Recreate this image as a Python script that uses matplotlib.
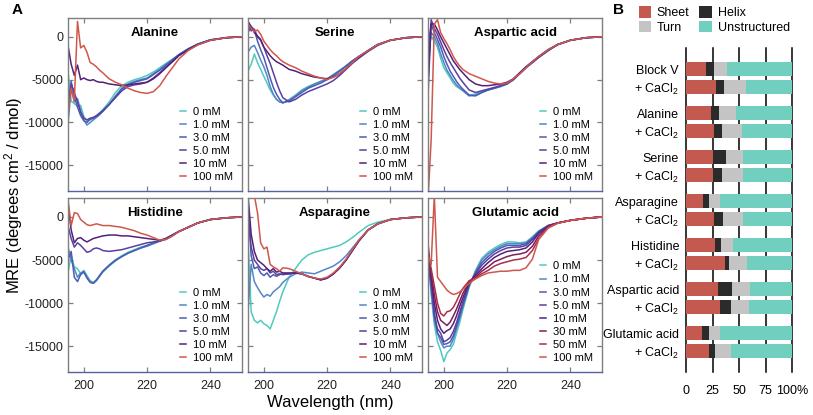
import matplotlib
matplotlib.use('Agg')
import matplotlib.pyplot as plt
import numpy as np

plt.rcParams['font.family'] = ['Liberation Sans', 'DejaVu Sans']
plt.rcParams['mathtext.fontset'] = 'custom'
plt.rcParams['mathtext.rm'] = 'Liberation Sans'
plt.rcParams['mathtext.it'] = 'Liberation Sans'
plt.rcParams['axes.unicode_minus'] = False

# ---- panel A data (MRE, degrees cm^2 / dmol) ----
wl = [195, 196, 197, 198, 199, 200, 201, 202, 203, 204, 205, 206, 208, 210, 212,
      214, 216, 218, 220, 222, 224, 226, 228, 230, 233, 236, 240, 245, 250]

conc6 = ['0 mM', '1.0 mM', '3.0 mM', '5.0 mM', '10 mM', '100 mM']
conc8 = ['0 mM', '1.0 mM', '3.0 mM', '5.0 mM', '10 mM', '30 mM', '50 mM', '100 mM']

alanine = [
    [-4000, -7500, -7800, -8100, -8000, -9300, -9800, -9700, -9500, -9200, -8900, -8500, -7600, -6500, -5700, -5300, -5000, -4800, -4500, -4100, -3600, -3100, -2600, -2100, -1400, -850, -350, -100, 0],
    [-10200, -6000, -7600, -7200, -8600, -9700, -10300, -10000, -9700, -9400, -9100, -8700, -7900, -6900, -6000, -5500, -5200, -5000, -4800, -4300, -3800, -3200, -2700, -2100, -1400, -850, -350, -100, 0],
    [-8000, -5200, -7000, -8200, -9200, -9800, -10000, -9600, -9500, -9300, -9000, -8700, -7900, -7000, -6100, -5600, -5300, -5100, -4900, -4400, -3900, -3300, -2700, -2100, -1400, -850, -350, -100, 0],
    [-9000, -5500, -6500, -7600, -8800, -9500, -9700, -9500, -9400, -9200, -8900, -8600, -7900, -7100, -6300, -5800, -5600, -5500, -5300, -4800, -4200, -3500, -2900, -2200, -1500, -900, -400, -100, 0],
    [-1000, -3200, -4500, -3300, -5000, -4800, -5000, -5100, -5000, -5200, -5300, -5300, -5500, -5600, -5700, -5600, -5500, -5400, -5300, -4900, -4300, -3600, -2900, -2200, -1500, -900, -400, -100, 0],
    [-9000, -6000, -7500, 1800, -1300, -1000, -1800, -3000, -3200, -3500, -3900, -4200, -4900, -5300, -5600, -6000, -6300, -6500, -6600, -6400, -5700, -4600, -3600, -2600, -1600, -950, -400, -100, 0],
]
serine = [
    [-4000, -3200, -2000, -3000, -3800, -4600, -5400, -6200, -6800, -7300, -7600, -7700, -7300, -6800, -6200, -5800, -5500, -5200, -4900, -4500, -4000, -3400, -2900, -2300, -1600, -900, -400, -100, 0],
    [-1800, -1200, -1000, -1800, -2700, -3500, -4500, -5800, -6700, -7300, -7600, -7700, -7400, -6900, -6300, -5900, -5500, -5200, -4900, -4400, -3900, -3400, -2800, -2300, -1600, -900, -400, -100, 0],
    [500, 1200, 800, -500, -1500, -2400, -3600, -4800, -5900, -6700, -7300, -7700, -7500, -7000, -6500, -6000, -5700, -5400, -5000, -4500, -4000, -3400, -2800, -2300, -1600, -900, -400, -100, 0],
    [1500, 700, 900, 0, -400, -1200, -2200, -3100, -4200, -5300, -6300, -7100, -7600, -7300, -6800, -6400, -6100, -5800, -5500, -5100, -4500, -3800, -3100, -2500, -1700, -1000, -400, -100, 0],
    [1800, 1200, 500, 100, -300, -1200, -1700, -2200, -2600, -2900, -3100, -3300, -3800, -4000, -4300, -4500, -4700, -4800, -4900, -4700, -4300, -3700, -3000, -2400, -1600, -900, -400, -100, 0],
    [1500, 1000, 600, 800, 300, -500, -1000, -1500, -1900, -2200, -2600, -2900, -3300, -3600, -4000, -4300, -4600, -4800, -5000, -4700, -4300, -3700, -3000, -2300, -1600, -900, -400, -100, 0],
]
aspartic = [
    [-2000, 0, -500, -1200, -2500, -3600, -4200, -4800, -5400, -5800, -6000, -6200, -6800, -6700, -6400, -6200, -6000, -5800, -5500, -5000, -4300, -3600, -3000, -2400, -1600, -900, -400, -100, 0],
    [-3000, 500, 0, -800, -2000, -3000, -3900, -4500, -5100, -5600, -6000, -6300, -6900, -6800, -6500, -6200, -6000, -5800, -5500, -5000, -4300, -3600, -3000, -2400, -1600, -900, -400, -100, 0],
    [-1000, 1500, 500, -300, -1200, -2300, -3200, -4000, -4600, -5200, -5700, -6100, -6800, -6900, -6500, -6200, -6000, -5700, -5400, -4900, -4200, -3500, -2900, -2300, -1500, -900, -400, -100, 0],
    [-7000, 2000, 1000, 300, -600, -1500, -2300, -3000, -3600, -4200, -4800, -5300, -6200, -6500, -6300, -6100, -5900, -5700, -5500, -5000, -4300, -3600, -3000, -2400, -1600, -900, -400, -100, 0],
    [-5000, 1500, 1500, 800, 0, -700, -1400, -2100, -2800, -3300, -3800, -4200, -5000, -5500, -5700, -5700, -5600, -5500, -5300, -4900, -4200, -3500, -2900, -2300, -1500, -900, -400, -100, 0],
    [-19000, -12000, 1500, 2000, 500, -200, -800, -1500, -2300, -2900, -3400, -3800, -4300, -4600, -4900, -5200, -5400, -5500, -5400, -4900, -4300, -3600, -2900, -2300, -1500, -900, -400, -100, 0],
]
histidine = [
    [-6500, -4500, -5800, -6000, -6600, -6200, -6800, -7400, -7600, -7300, -6800, -6300, -5600, -5000, -4500, -4100, -3800, -3500, -3300, -3100, -2800, -2500, -2100, -1700, -1200, -700, -300, -100, 0],
    [-3500, -5000, -6000, -7000, -6500, -6300, -7000, -7500, -7700, -7400, -6900, -6400, -5700, -5100, -4600, -4200, -3900, -3600, -3400, -3100, -2800, -2500, -2100, -1700, -1200, -700, -300, -100, 0],
    [-5000, -4000, -7000, -7500, -6700, -6400, -7100, -7600, -7700, -7300, -6800, -6300, -5600, -5000, -4600, -4200, -3900, -3600, -3300, -3000, -2800, -2500, -2100, -1700, -1200, -700, -300, -100, 0],
    [-1000, -2500, -3500, -3000, -3300, -3700, -4100, -4000, -3700, -3600, -3700, -3900, -4000, -3900, -3800, -3600, -3400, -3200, -3000, -2900, -2800, -2600, -2200, -1700, -1200, -700, -300, -100, 0],
    [1500, -1500, -3000, -2500, -2400, -2700, -2900, -2700, -2500, -2400, -2300, -2200, -2100, -2100, -2200, -2200, -2300, -2400, -2500, -2600, -2700, -2500, -2100, -1700, -1200, -700, -300, -100, 0],
    [2000, -1000, 500, 400, -300, -600, -900, -1000, -900, -800, -900, -1000, -1000, -1100, -1200, -1400, -1600, -1900, -2100, -2400, -2700, -2600, -2200, -1700, -1200, -700, -300, -100, 0],
]
asparagine = [
    [-2500, -11000, -12000, -12300, -12000, -12400, -12600, -13000, -12000, -11000, -9800, -8700, -7000, -6000, -5000, -4400, -4100, -3900, -3700, -3500, -3300, -2900, -2400, -1800, -1000, -600, -300, -100, 0],
    [-11000, -5500, -7500, -8200, -8800, -9300, -9000, -9200, -8700, -8400, -8100, -7600, -7000, -6600, -6400, -6500, -6600, -6300, -6000, -5700, -5200, -4500, -3600, -2700, -1500, -800, -300, -100, 0],
    [1000, -4500, -6000, -5800, -6500, -6800, -6500, -7000, -6700, -6900, -6700, -6600, -6600, -6500, -6600, -6900, -7100, -7300, -7100, -6600, -5900, -5000, -3900, -2800, -1500, -800, -300, -100, 0],
    [500, -3500, -5000, -5500, -6000, -6200, -6000, -6500, -6300, -6700, -6600, -6700, -6600, -6500, -6600, -6900, -7100, -7300, -7100, -6600, -5900, -5000, -3900, -2800, -1500, -800, -300, -100, 0],
    [2500, -2000, -4000, -5000, -5300, -5600, -6000, -6300, -6000, -6400, -6300, -6500, -6500, -6500, -6600, -6900, -7100, -7300, -7100, -6600, -5900, -5000, -3900, -2800, -1500, -800, -300, -100, 0],
    [3000, 3000, 2500, 500, -3000, -3700, -3500, -5500, -5800, -6000, -6300, -5900, -6000, -6300, -6600, -6900, -7100, -7200, -7000, -6500, -5800, -4900, -3800, -2700, -1500, -800, -300, -100, 0],
]
glutamic = [
    [-4500, -9000, -12500, -14500, -15500, -16800, -15800, -15400, -14800, -13500, -12300, -10800, -8200, -6200, -4800, -4100, -3600, -3200, -2900, -2900, -3000, -2900, -2300, -1600, -1000, -700, -400, -150, 0],
    [-5000, -8500, -12000, -13500, -14500, -15200, -15000, -15000, -14200, -13000, -11800, -10500, -8000, -6400, -5000, -4300, -3800, -3400, -3100, -3100, -3100, -3000, -2400, -1700, -1000, -700, -400, -150, 0],
    [-4000, -8000, -11000, -13500, -14000, -14800, -14700, -14500, -13800, -12700, -11500, -10200, -7900, -6500, -5300, -4600, -4000, -3600, -3300, -3300, -3300, -3100, -2500, -1700, -1000, -700, -400, -150, 0],
    [-6000, -7500, -11500, -13000, -13500, -14500, -14300, -14000, -13300, -12300, -11100, -9900, -7800, -6600, -5600, -4900, -4300, -3900, -3600, -3500, -3500, -3300, -2600, -1800, -1000, -700, -400, -150, 0],
    [-3000, -7000, -10000, -12000, -13000, -13500, -13200, -13000, -12400, -11500, -10400, -9400, -7600, -6800, -6000, -5300, -4700, -4300, -4000, -3900, -3800, -3600, -2900, -1900, -1100, -700, -400, -150, 0],
    [-5500, -6500, -9000, -11000, -12000, -12300, -12600, -12200, -11500, -10700, -9800, -8900, -7500, -7000, -6300, -5800, -5200, -4900, -4600, -4400, -4300, -4100, -3400, -2200, -1100, -700, -400, -150, 0],
    [-4000, -6000, -8000, -10000, -11200, -11500, -11000, -10900, -10500, -9800, -9000, -8300, -7400, -7100, -6600, -6200, -5700, -5400, -5200, -5000, -4900, -4700, -3900, -2500, -1200, -700, -400, -150, 0],
    [-4500, -5500, 2500, -7000, -7500, -8000, -8500, -8800, -9000, -8900, -8700, -8400, -7700, -7200, -6800, -6500, -6400, -6300, -6300, -6200, -6200, -5900, -4900, -2600, -1300, -750, -400, -150, 0],
]

titles = ['Alanine', 'Serine', 'Aspartic acid', 'Histidine', 'Asparagine', 'Glutamic acid']
panels = [alanine, serine, aspartic, histidine, asparagine, glutamic]

colors6 = ['#4fcac1', '#5486c8', '#4a5db0', '#5a3fa3', '#55207a', '#d0574c']
colors8 = ['#4fcac1', '#5486c8', '#4a5db0', '#5a3fa3', '#55207a', '#7d1f5c', '#aa2f4b', '#d0574c']

# ---- panel B data (% of secondary structure) ----
samples = ['Block V', 'Alanine', 'Serine', 'Asparagine', 'Histidine', 'Aspartic acid', 'Glutamic acid']
sheet = [19, 28, 24, 26, 25.5, 25.5, 16, 26.5, 27, 37, 30, 32.5, 15.5, 22]
helix = [7, 8, 7.5, 8, 12.5, 8.5, 6, 8, 6, 4, 13, 10, 6.5, 5]
turn = [13, 20.5, 16, 19, 15.5, 20, 10.5, 19.5, 11.5, 17, 17, 17, 10.5, 15.5]
unstructured = [61, 43.5, 52.5, 47, 46.5, 46, 67.5, 46, 55.5, 42, 40, 40.5, 67.5, 57.5]

W, H = 813, 415
fig = plt.figure(figsize=(W / 100, H / 100), dpi=100)

def px_axes(x0, y0, x1, y1):
    return fig.add_axes([x0 / W, 1 - y1 / H, (x1 - x0) / W, (y1 - y0) / H])

lefts = [68, 248, 428]
rows = [(18, 191), (198, 372)]
gray = '#7f7f7f'

for k, (data, title) in enumerate(zip(panels, titles)):
    r, c = divmod(k, 3)
    ax = px_axes(lefts[c], rows[r][0], lefts[c] + 174, rows[r][1])
    labels = conc8 if len(data) == 8 else conc6
    cols = colors8 if len(data) == 8 else colors6
    for y, lab, col in zip(data, labels, cols):
        ax.plot(wl, y, color=col, lw=1.1, label=lab)
    ax.set_xlim(195, 250)
    ax.set_ylim(-18000, 2200)
    ax.set_xticks([200, 220, 240])
    ax.set_yticks([0, -5000, -10000, -15000])
    ax.tick_params(direction='in', top=True, right=True, length=3.5, width=0.9,
                   color=gray, labelsize=9, labelcolor='#222222', pad=3)
    ax.tick_params(axis='x', pad=6)
    if c > 0:
        ax.tick_params(labelleft=False)
    if r == 0:
        ax.tick_params(labelbottom=False)
    for s in ax.spines.values():
        s.set_color(gray)
        s.set_linewidth(1.0)
    ax.spines['bottom'].set_color('#5a60a8')
    ax.text(0.5, 0.913, title, transform=ax.transAxes, ha='center', va='center',
            fontsize=9.5, fontweight='bold')
    ax.legend(loc='lower right', frameon=False, fontsize=8, handlelength=0.6,
              handletextpad=0.6, labelspacing=0.28, borderaxespad=0.5, borderpad=0.3)

fig.text(14 / W, 1 - 195 / H, 'MRE (degrees cm$^2$ / dmol)', rotation=90,
         ha='center', va='center', fontsize=12)
fig.text(330 / W, 1 - 402 / H, 'Wavelength (nm)', ha='center', va='center', fontsize=12)
fig.text(12 / W, 1 - 10 / H, 'A', fontsize=11, fontweight='bold', va='center', ha='left')
fig.text(613 / W, 1 - 10 / H, 'B', fontsize=11, fontweight='bold', va='center', ha='left')

# ---- panel B ----
axb = px_axes(686, 48, 792, 372)
pos = []
ylabels = []
for i, name in enumerate(samples):
    pos += [i * 2.45, i * 2.45 + 1]
    ylabels += [name, '+ CaCl$_2$']
pos = np.array(pos)
left = np.zeros(len(pos))
for vals, col, lab in [(sheet, '#c3594f', 'Sheet'), (helix, '#2b2b2b', 'Helix'),
                       (turn, '#c4c4c4', 'Turn'), (unstructured, '#70cfbf', 'Unstructured')]:
    axb.barh(pos, vals, left=left, height=0.78, color=col, label=lab)
    left += np.array(vals)
axb.set_xlim(0, 100)
axb.set_ylim(pos[-1] + 1.17, -1.17)
axb.set_yticks(pos)
axb.set_yticklabels(ylabels)
axb.set_xticks([0, 25, 50, 75, 100])
axb.set_xticklabels(['0', '25', '50', '75', '100%'])
axb.tick_params(length=0, labelsize=9, pad=9)
axb.tick_params(axis='y', pad=5)
for s in axb.spines.values():
    s.set_visible(False)
axb.set_axisbelow(True)
axb.grid(axis='x', color='k', lw=1.1)
for gl in axb.get_xgridlines():
    gl.set_clip_on(False)
h, l = axb.get_legend_handles_labels()
order = [0, 2, 1, 3]
fig.legend([h[i] for i in order], [l[i] for i in order], ncol=2, loc='upper left',
           bbox_to_anchor=(631 / W, 1 + 1 / H), frameon=False, fontsize=9,
           handlelength=1.0, handleheight=1.0, handletextpad=0.45,
           columnspacing=0.8, labelspacing=0.15, borderpad=0.1)

fig.savefig('out.png', dpi=100)
